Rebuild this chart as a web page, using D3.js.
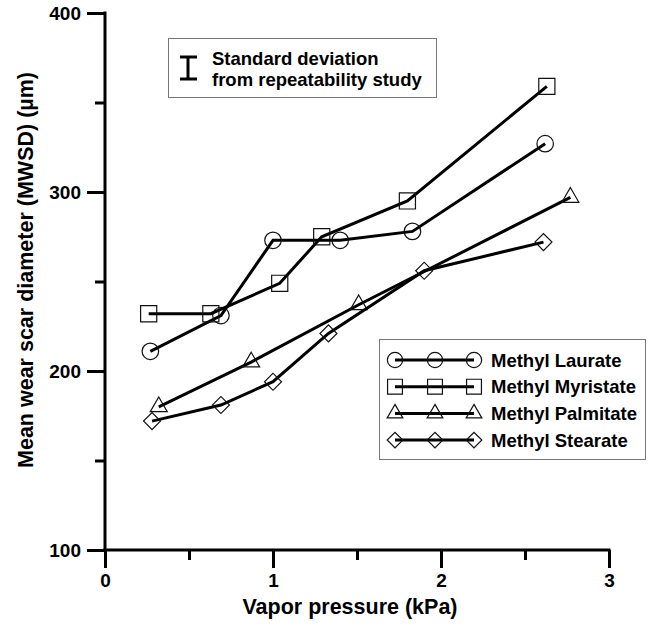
<!DOCTYPE html>
<html>
<head>
<meta charset="utf-8">
<script src="https://d3js.org/d3.v7.min.js"></script>
<style>
  body { margin: 0; background: #fff; }
  text { font-family: "Liberation Sans", Arial, sans-serif; font-weight: bold; fill: #000; }
</style>
</head>
<body>
<div id="chart"></div>
<script>
// data (vapor pressure kPa, MWSD um)
var seriesNames = ["Methyl Laurate", "Methyl Myristate", "Methyl Palmitate", "Methyl Stearate"];
var laurateX = [0.27, 0.69, 1.0, 1.4, 1.83, 2.62];
var laurateY = [211, 231, 273, 273, 278, 327];
var myristateX = [0.26, 0.63, 1.04, 1.29, 1.8, 2.63];
var myristateY = [232, 232, 249, 275, 295, 359];
var palmitateX = [0.32, 0.87, 1.51, 2.77];
var palmitateY = [180, 205, 237, 297];
var stearateX = [0.28, 0.69, 1.0, 1.33, 1.9, 2.61];
var stearateY = [172, 181, 194, 221, 256, 272];
var xTicks = [0, 1, 2, 3];
var yTicks = [100, 200, 300, 400];

var svgWidth = 655, svgHeight = 626;

var svg = d3.select("#chart")
  .append("svg")
  .attr("width", svgWidth)
  .attr("height", svgHeight);

// scales
var x = d3.scaleLinear().domain([0, 3]).range([105, 609]);
var y = d3.scaleLinear().domain([100, 400]).range([550, 13]);

// axes - major ticks labelled, minor ticks in between
var bottomAxis = d3.axisBottom(x).tickValues(xTicks).tickSize(18).tickPadding(6).tickFormat(d3.format("d"));
var leftAxis = d3.axisLeft(y).tickValues(yTicks).tickSize(18).tickPadding(6).tickFormat(d3.format("d"));
var bottomMinor = d3.axisBottom(x).tickValues([0.5, 1.5, 2.5]).tickSize(10).tickFormat("");
var leftMinor = d3.axisLeft(y).tickValues([150, 250, 350]).tickSize(10).tickFormat("");

function styleAxis(g) {
  g.select(".domain").remove();
  g.selectAll("line").attr("stroke", "#000").attr("stroke-width", 3);
  g.selectAll("text").style("font-size", "19px");
}

svg.append("g").attr("transform", "translate(0,550)").call(bottomMinor).call(styleAxis);
svg.append("g").attr("transform", "translate(105,0)").call(leftMinor).call(styleAxis);
svg.append("g").attr("transform", "translate(0,550)").call(bottomAxis).call(styleAxis);
svg.append("g").attr("transform", "translate(105,0)").call(leftAxis).call(styleAxis);

// axis lines
svg.append("line")
  .attr("x1", x(0) - 1.5).attr("x2", x(3) + 1.5)
  .attr("y1", y(100)).attr("y2", y(100))
  .attr("stroke", "#000").attr("stroke-width", 3);
svg.append("line")
  .attr("x1", x(0)).attr("x2", x(0))
  .attr("y1", y(400) - 1.5).attr("y2", y(100))
  .attr("stroke", "#000").attr("stroke-width", 3);

// axis titles
svg.append("text")
  .attr("x", 350)
  .attr("y", 614)
  .attr("text-anchor", "middle")
  .style("font-size", "21.5px")
  .text("Vapor pressure (kPa)");

svg.append("text")
  .attr("transform", "translate(33, 270) rotate(-90)")
  .attr("text-anchor", "middle")
  .style("font-size", "21.5px")
  .text("Mean wear scar diameter (MWSD) (µm)");

// symbols per series (diamond = rotated square)
var symbolTypes = [d3.symbolCircle, d3.symbolSquare, d3.symbolTriangle, d3.symbolSquare];
var symbolSizes = [215, 260, 125, 144];
var symbolRot = [0, 0, 0, 45];

var series = [
  { name: seriesNames[0], xs: laurateX, ys: laurateY },
  { name: seriesNames[1], xs: myristateX, ys: myristateY },
  { name: seriesNames[2], xs: palmitateX, ys: palmitateY },
  { name: seriesNames[3], xs: stearateX, ys: stearateY }
];

var line = d3.line().x(d => x(d[0])).y(d => y(d[1]));

series.forEach(function(s, i) {
  var pts = s.xs.map((v, j) => [v, s.ys[j]]);

  svg.append("path")
    .datum(pts)
    .attr("d", line)
    .attr("fill", "none")
    .attr("stroke", "#000")
    .attr("stroke-width", 3);

  svg.selectAll(".pt" + i)
    .data(pts)
    .enter()
    .append("path")
    .attr("class", "pt" + i)
    .attr("d", d3.symbol().type(symbolTypes[i]).size(symbolSizes[i])())
    .attr("transform", d => `translate(${x(d[0])},${y(d[1])}) rotate(${symbolRot[i]})`)
    .attr("fill", "none")
    .attr("stroke", "#111")
    .attr("stroke-width", 1.2);
});

// standard deviation box
svg.append("rect")
  .attr("x", 168.5).attr("y", 38.5)
  .attr("width", 268).attr("height", 59)
  .attr("fill", "#fff")
  .attr("stroke", "#777")
  .attr("stroke-width", 1);

var eb = svg.append("g").attr("stroke", "#000").attr("stroke-width", 3);
eb.append("line").attr("x1", 188).attr("x2", 188).attr("y1", 57).attr("y2", 79);
eb.append("line").attr("x1", 180).attr("x2", 197).attr("y1", 57).attr("y2", 57);
eb.append("line").attr("x1", 180).attr("x2", 197).attr("y1", 79).attr("y2", 79);

svg.append("text").attr("x", 212).attr("y", 65).style("font-size", "18.5px").text("Standard deviation");
svg.append("text").attr("x", 212).attr("y", 86).style("font-size", "18.5px").text("from repeatability study");

// series legend
svg.append("rect")
  .attr("x", 379.5).attr("y", 339.5)
  .attr("width", 266).attr("height", 120)
  .attr("fill", "#fff")
  .attr("stroke", "#777")
  .attr("stroke-width", 1);

var legend = svg.selectAll(".legend")
  .data(series)
  .enter()
  .append("g")
  .attr("class", "legend")
  .attr("transform", (d, i) => `translate(0, ${360 + i * 26.7})`);

legend.append("line")
  .attr("x1", 395).attr("x2", 474)
  .attr("y1", 0).attr("y2", 0)
  .attr("stroke", "#000").attr("stroke-width", 3);

legend.each(function(d, i) {
  d3.select(this).selectAll("path")
    .data([395, 435, 474])
    .enter()
    .append("path")
    .attr("d", d3.symbol().type(symbolTypes[i]).size(symbolSizes[i] * 0.85)())
    .attr("transform", v => `translate(${v},0) rotate(${symbolRot[i]})`)
    .attr("fill", "none")
    .attr("stroke", "#111")
    .attr("stroke-width", 1.2);
});

legend.append("text")
  .attr("x", 491)
  .attr("y", 6.5)
  .style("font-size", "18.5px")
  .text(d => d.name);
</script>
</body>
</html>
